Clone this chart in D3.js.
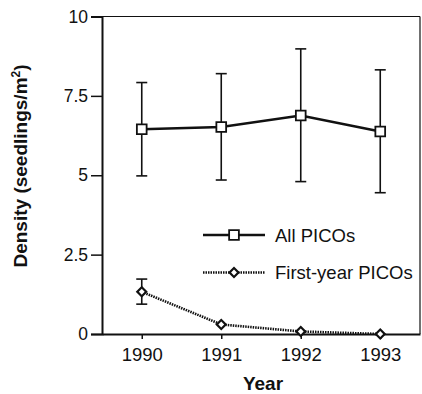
<!DOCTYPE html>
<html><head><meta charset="utf-8">
<script src="https://cdn.jsdelivr.net/npm/d3@7"></script>
<style>body{margin:0;background:#fff}svg{display:block}text{font-family:"Liberation Sans",Arial,sans-serif;fill:#111}</style>
</head><body><svg id="c" width="422" height="394"></svg>
<script>
const years = [1990, 1991, 1992, 1993];
const allMean = [6.45, 6.52, 6.88, 6.38];
const allUpper = [7.92, 8.2, 8.98, 8.32];
const allLower = [4.98, 4.85, 4.8, 4.45];
const firstMean = [1.33, 0.3, 0.08, 0];
const firstUpper = [1.73, null, null, null];
const firstLower = [0.94, null, null, null];
const yTicks = [0, 2.5, 5, 7.5, 10];
const yTickLabels = ["0", "2.5", "5", "7.5", "10"];
const seriesNames = ["All PICOs", "First-year PICOs"];

const svg = d3.select("#c");
const x = d3.scaleLinear().domain([1989.5, 1993.5]).range([102, 420]);
const y = d3.scaleLinear().domain([0, 10]).range([334, 16.5]);

// frame top/right
svg.append("line").attr("x1",102).attr("x2",420).attr("y1",16.5).attr("y2",16.5).attr("stroke","#111").attr("stroke-width",1.2);
svg.append("line").attr("x1",420).attr("x2",420).attr("y1",16.5).attr("y2",334).attr("stroke","#111").attr("stroke-width",1.2);

const yAxis = svg.append("g").attr("transform","translate(102,0)")
  .call(d3.axisLeft(y).tickValues(yTicks).tickFormat((d,i)=>yTickLabels[i]).tickSize(11).tickPadding(3));
yAxis.select(".domain").attr("stroke","#111").attr("stroke-width",2);
yAxis.selectAll(".tick line").attr("stroke","#111").attr("stroke-width",1.5);
yAxis.selectAll("text").style("font-size","17.5px").attr("fill","#111");

const xAxis = svg.append("g").attr("transform","translate(0,334)")
  .call(d3.axisBottom(x).tickValues(years).tickFormat(d3.format("d")).tickSize(5).tickSizeOuter(0).tickPadding(9));
xAxis.select(".domain").attr("stroke","#111").attr("stroke-width",2);
xAxis.selectAll(".tick line").attr("stroke","#111").attr("stroke-width",1.5);
xAxis.selectAll("text").style("font-size","18.5px").attr("fill","#111");

svg.append("text").attr("x",263).attr("y",390).attr("text-anchor","middle")
  .style("font-size","19px").style("font-weight","bold").text("Year");
svg.append("text").attr("transform","translate(27,166) rotate(-90)").attr("text-anchor","middle")
  .style("font-size","19px").style("font-weight","bold")
  .html('Density (seedlings/m<tspan dy="-7" style="font-size:12px">2</tspan><tspan dy="7">)</tspan>');

// error bars
function errBars(up, lo){
  years.forEach((yr,i)=>{
    if(up[i]==null) return;
    const cx = x(yr);
    const g = svg.append("g").attr("stroke","#111").attr("stroke-width",1.6);
    g.append("line").attr("x1",cx).attr("x2",cx).attr("y1",y(up[i])).attr("y2",y(lo[i]));
    g.append("line").attr("x1",cx-5.5).attr("x2",cx+5.5).attr("y1",y(up[i])).attr("y2",y(up[i]));
    g.append("line").attr("x1",cx-5.5).attr("x2",cx+5.5).attr("y1",y(lo[i])).attr("y2",y(lo[i]));
  });
}
errBars(allUpper, allLower);
errBars(firstUpper, firstLower);

const line = d3.line().x((d,i)=>x(years[i])).y(d=>y(d));
svg.append("path").datum(allMean).attr("d",line).attr("fill","none").attr("stroke","#111").attr("stroke-width",2.6);
svg.append("path").datum(firstMean).attr("d",line).attr("fill","none").attr("stroke","#111").attr("stroke-width",2.6).attr("stroke-dasharray","1.5,1");

const sq = d3.symbol().type(d3.symbolSquare).size(95);
const di = d3.symbol().type(d3.symbolSquare).size(40);
svg.selectAll(".sq").data(allMean).join("path").attr("d",sq)
  .attr("transform",(d,i)=>`translate(${x(years[i])},${y(d)})`).attr("fill","#fff").attr("stroke","#111").attr("stroke-width",1.8);
svg.selectAll(".di").data(firstMean).join("path").attr("d",di)
  .attr("transform",(d,i)=>`translate(${x(years[i])},${y(d)}) rotate(45)`).attr("fill","#fff").attr("stroke","#111").attr("stroke-width",2.2);

// legend
const leg = [{y:235, dash:null, sym:sq, sw:1.8, rot:0},{y:272.5, dash:"1.5,1", sym:di, sw:2.2, rot:45}];
leg.forEach((L,i)=>{
  svg.append("line").attr("x1",203).attr("x2",265).attr("y1",L.y).attr("y2",L.y).attr("stroke","#111").attr("stroke-width",2.4).attr("stroke-dasharray",L.dash);
  svg.append("path").attr("d",L.sym).attr("transform",`translate(234,${L.y}) rotate(${L.rot})`).attr("fill","#fff").attr("stroke","#111").attr("stroke-width",L.sw);
  svg.append("text").attr("x",275).attr("y",L.y+6.5).style("font-size","18.5px").text(seriesNames[i]);
});
</script></body></html>
